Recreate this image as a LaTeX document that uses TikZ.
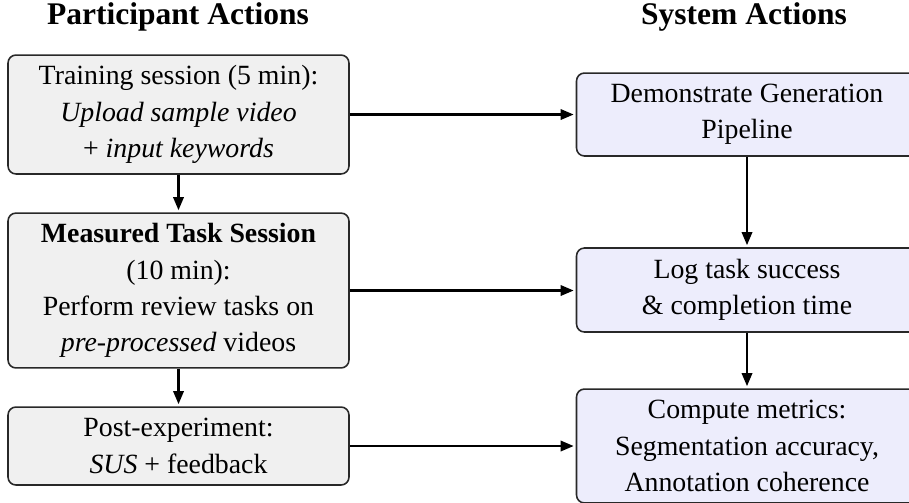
\documentclass[tikz,border=0pt]{standalone}
\usepackage{fontspec}
\setmainfont{Liberation Serif}
\usetikzlibrary{arrows.meta}
\definecolor{partfill}{RGB}{240,240,240}
\definecolor{sysfill}{RGB}{237,237,252}
\definecolor{edge}{RGB}{40,40,40}
\tikzset{
  box/.style={draw=edge, line width=0.6pt, rounded corners=3pt, align=center,
    inner sep=2pt, minimum width=129.9pt,
    font=\fontsize{10.6}{13.8}\selectfont},
  partbox/.style={box, fill=partfill},
  sysbox/.style={box, fill=sysfill},
  header/.style={font=\fontsize{12}{14}\selectfont\bfseries},
  flow/.style={-{Triangle[length=5pt,width=4pt]}, line width=0.8pt, black,
    shorten >=0.8pt},
}
\begin{document}
\begin{tikzpicture}[x=0.381pt, y=-0.381pt]
  \clip (0,0) rectangle (909,502);
  \useasboundingbox (0,0) rectangle (909,502);

  % column headers
  \node[header] (hp) at (178,17) {Participant Actions};
  \node[header] (hs) at (744,17) {System Actions};

  % participant side
  \node[partbox, minimum height=45.3pt] (p1) at (178.5,114.5)
    {Training session (5 min):\\\textit{Upload sample video}\\+ \textit{input keywords}};
  \node[partbox, minimum height=59pt] (p2) at (178.5,290.5)
    {\textbf{Measured Task Session}\\(10 min):\\Perform review tasks on\\\textit{pre-processed} videos};
  \node[partbox, minimum height=29.7pt] (p3) at (178.5,446)
    {Post-experiment:\\\textit{SUS} + feedback};

  % system side
  \node[sysbox, minimum height=31.6pt] (s1) at (747,114.5)
    {Demonstrate Generation\\Pipeline};
  \node[sysbox, minimum height=32pt] (s2) at (747,290)
    {Log task success\\\& completion time};
  \node[sysbox, minimum height=43.4pt] (s3) at (747,446)
    {Compute metrics:\\Segmentation accuracy,\\Annotation coherence};

  % connectors
  \draw[flow] (p1) -- (p2);
  \draw[flow] (p2) -- (p3);
  \draw[flow] (s1) -- (s2);
  \draw[flow] (s2) -- (s3);
  \draw[flow] (p1.east) -- (p1.east -| s1.west);
  \draw[flow] (p2.east) -- (p2.east -| s2.west);
  \draw[flow] (p3.east) -- (p3.east -| s3.west);
\end{tikzpicture}
\end{document}
